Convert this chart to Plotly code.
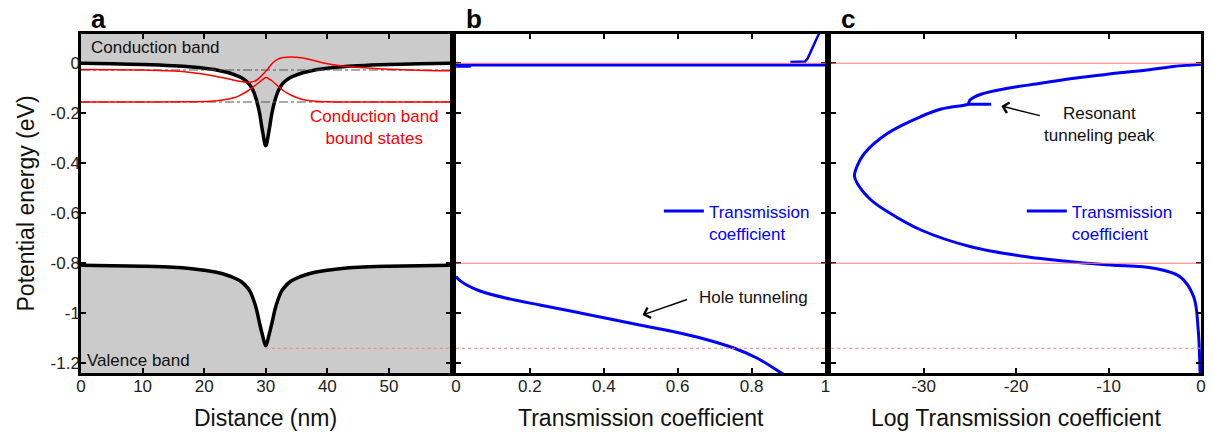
import plotly.graph_objects as go

# ---------------- data ----------------
# Panel a: band profiles vs distance (nm)
cb_x = [0, 5, 10, 15, 18, 20, 22, 24, 25, 26, 27, 27.5, 28, 28.5, 29, 29.5, 30,
        30.5, 31, 31.5, 32, 32.5, 33, 34, 35, 36, 38, 40, 42, 45, 50, 55, 60]
cb_E = [0, -0.002, -0.005, -0.01, -0.015, -0.02, -0.027, -0.038, -0.047, -0.057, -0.075,
        -0.09, -0.112, -0.148, -0.2, -0.275, -0.33,
        -0.275, -0.2, -0.148, -0.112, -0.09, -0.075, -0.057, -0.047, -0.038, -0.027,
        -0.02, -0.015, -0.01, -0.005, -0.002, 0]
vb_E = [-0.808, -0.81, -0.812, -0.816, -0.822, -0.828, -0.836, -0.85, -0.86, -0.873, -0.897,
        -0.915, -0.945, -0.985, -1.04, -1.09, -1.13,
        -1.09, -1.04, -0.985, -0.945, -0.915, -0.897, -0.873, -0.86, -0.85, -0.836,
        -0.828, -0.822, -0.816, -0.812, -0.81, -0.808]

# bound states (eV) and wavefunctions drawn offset by their energy
bound_E = [-0.155, -0.027]
wf1_x = [0, 10, 18, 21, 23, 25, 26, 27, 28, 29, 29.6, 30.1, 30.6, 31, 32, 33, 34, 35, 36, 38, 40, 45, 60]
wf1_E = [-0.155, -0.155, -0.154, -0.152, -0.147, -0.137, -0.126, -0.112, -0.094, -0.075, -0.063,
         -0.057, -0.064, -0.07, -0.092, -0.112, -0.126, -0.137, -0.145, -0.152, -0.154, -0.155, -0.155]
wf2_x = [0, 10, 16, 20, 22, 24, 26, 27.5, 28.5, 29.2, 30.2, 31.2, 32.3, 34, 36, 37.5, 39.6, 42.4, 46, 50, 55, 60]
wf2_E = [-0.025, -0.027, -0.032, -0.044, -0.053, -0.063, -0.073, -0.076, -0.068, -0.053, -0.027,
         0.003, 0.02, 0.025, 0.021, 0.013, 0.0, -0.011, -0.018, -0.024, -0.028, -0.03]

# reference levels (eV)
ref_solid = [0.0, -0.8]
ref_dotted = -1.14
vb_min_x = 30

# Panel b: transmission coefficient
T_hole = [0.893, 0.88, 0.813, 0.75, 0.677, 0.587, 0.497, 0.407, 0.317, 0.227, 0.137, 0.065, 0.029, 0.008, 0.0]
E_hole = [-1.25, -1.238, -1.178, -1.138, -1.105, -1.073, -1.047, -1.02, -0.993, -0.967, -0.94,
          -0.911, -0.887, -0.866, -0.852]
T_gap = [0.0, 0.04, 0.0, 1.0]
E_gap = [-0.012, -0.012, -0.007, -0.007]
T_up = [0.905, 0.945, 0.952, 0.962, 0.972, 0.982, 0.99]
E_up = [0.005, 0.007, 0.02, 0.055, 0.085, 0.117, 0.14]

# Panel c: log transmission coefficient
logT_c = [0.0, -1.0, -2.98, -5.84, -10.1, -13.7, -17.3, -20.9, -23.8, -25.0, -25.2, -26.6, -28.1,
          -30.3, -33.9, -36.4, -37.3, -37.5, -37.2, -35.7, -33.9, -30.3, -24.9, -19.5, -14.1,
          -9.8, -5.1, -2.3, -0.8, -0.3, -0.1, -0.08]
E_c = [-0.004, -0.007, -0.013, -0.027, -0.044, -0.06, -0.08, -0.1, -0.124, -0.147, -0.163, -0.173,
       -0.183, -0.213, -0.28, -0.36, -0.42, -0.45, -0.48, -0.547, -0.594, -0.667, -0.734, -0.771,
       -0.794, -0.807, -0.82, -0.853, -0.933, -1.067, -1.238, -1.26]
res_logT = [-25.2, -22.7]
res_E = [-0.164, -0.164]

# ticks
y_ticks = [0, -0.2, -0.4, -0.6, -0.8, -1.0, -1.2]
y_labels = ["0", "-0.2", "-0.4", "-0.6", "-0.8", "-1", "-1.2"]
xa_ticks = [0, 10, 20, 30, 40, 50]
xb_ticks = [0, 0.2, 0.4, 0.6, 0.8, 1.0]
xb_labels = ["0", "0.2", "0.4", "0.6", "0.8", "1"]
xc_ticks = [-30, -20, -10, 0]
xc_labels = ["-30", "-20", "-10", "0"]

# ---------------- styles ----------------
FONT = "Liberation Sans, Arial, sans-serif"
BLUE = "#0000ff"
RED = "#ff0000"
LIGHTRED = "#ff7c7c"
GRAY = "#cbcbcb"

fig = go.Figure()

# Panel a
fig.add_trace(go.Scatter(x=cb_x, y=vb_E, mode="lines", line=dict(color="black", width=3.5, shape="spline"),
                         xaxis="x", yaxis="y", showlegend=False))
fig.add_trace(go.Scatter(x=cb_x, y=cb_E, mode="lines", line=dict(color="black", width=3.5, shape="spline"),
                         fill="tonexty", fillcolor="white", xaxis="x", yaxis="y", showlegend=False))
for e in bound_E:
    fig.add_trace(go.Scatter(x=[cb_x[0], cb_x[-1]], y=[e, e], mode="lines",
                             line=dict(color="#555555", width=1, dash="dashdot"),
                             xaxis="x", yaxis="y", showlegend=False))
fig.add_trace(go.Scatter(x=wf1_x, y=wf1_E, mode="lines", line=dict(color=RED, width=1.5, shape="spline"),
                         xaxis="x", yaxis="y", showlegend=False))
fig.add_trace(go.Scatter(x=wf2_x, y=wf2_E, mode="lines", line=dict(color=RED, width=1.5, shape="spline"),
                         xaxis="x", yaxis="y", showlegend=False))
fig.add_trace(go.Scatter(x=[vb_min_x, cb_x[-1]], y=[ref_dotted, ref_dotted], mode="lines",
                         line=dict(color=LIGHTRED, width=1, dash="dot"),
                         xaxis="x", yaxis="y", showlegend=False))

# Panel b
fig.add_trace(go.Scatter(x=T_hole, y=E_hole, mode="lines", line=dict(color=BLUE, width=3, shape="spline"),
                         xaxis="x2", yaxis="y2", name="Transmission<br>coefficient",
                         showlegend=True, legend="legend"))
fig.add_trace(go.Scatter(x=T_gap, y=E_gap, mode="lines", line=dict(color=BLUE, width=3),
                         xaxis="x2", yaxis="y2", showlegend=False))
fig.add_trace(go.Scatter(x=T_up, y=E_up, mode="lines", line=dict(color=BLUE, width=2.5),
                         xaxis="x2", yaxis="y2", showlegend=False))

# Panel c
fig.add_trace(go.Scatter(x=logT_c, y=E_c, mode="lines", line=dict(color=BLUE, width=3, shape="spline"),
                         xaxis="x3", yaxis="y3", name="Transmission<br>coefficient",
                         showlegend=True, legend="legend2"))
fig.add_trace(go.Scatter(x=res_logT, y=res_E, mode="lines", line=dict(color=BLUE, width=3),
                         xaxis="x3", yaxis="y3", showlegend=False))

shapes = [dict(type="rect", xref="x domain", yref="y domain", x0=0, x1=1, y0=0, y1=1,
               fillcolor=GRAY, line=dict(width=0), layer="below")]
for ax in ["x2", "x3"]:
    yax = "y" + ax[1:]
    for lv in ref_solid:
        shapes.append(dict(type="line", xref=ax + " domain", yref=yax, x0=0, x1=1, y0=lv, y1=lv,
                           line=dict(color=LIGHTRED, width=1.2), layer="above"))
    shapes.append(dict(type="line", xref=ax + " domain", yref=yax, x0=0, x1=1, y0=ref_dotted, y1=ref_dotted,
                       line=dict(color=LIGHTRED, width=1, dash="dot"), layer="above"))

yrange = [-1.239, 0.117]
axis_common = dict(showline=True, linecolor="black", linewidth=2.5, mirror="allticks", ticks="inside",
                   ticklen=5, tickwidth=2, tickcolor="black", showgrid=False, zeroline=False,
                   automargin=False,
                   tickfont=dict(family=FONT, size=17, color="#222222"))
title_font = dict(family=FONT, size=23, color="#111111")

fig.update_layout(
    width=1213, height=435,
    margin=dict(l=81, r=12, t=34, b=62, autoexpand=False),
    paper_bgcolor="white", plot_bgcolor="white",
    font=dict(family=FONT, color="#222222"),
    shapes=shapes,
    xaxis=dict(domain=[0, 0.3299], range=[0, 60], tickvals=xa_ticks, anchor="y", ticklabelstandoff=-4,
               **axis_common),
    yaxis=dict(range=yrange, tickvals=y_ticks, ticktext=y_labels, anchor="x", ticklabelstandoff=-5,
               **axis_common),
    xaxis2=dict(domain=[0.3348, 0.6647], range=[0, 1], tickvals=xb_ticks, ticktext=xb_labels, anchor="y2",
                ticklabelstandoff=-4, **axis_common),
    yaxis2=dict(range=yrange, tickvals=y_ticks, showticklabels=False, anchor="x2", **axis_common),
    xaxis3=dict(domain=[0.6699, 1.0], range=[-40, 0], tickvals=xc_ticks, ticktext=xc_labels, anchor="y3",
                ticklabelstandoff=-4, **axis_common),
    yaxis3=dict(range=yrange, tickvals=y_ticks, showticklabels=False, anchor="x3", **axis_common),
    legend=dict(x=0.516, y=0.53, xref="paper", yref="paper", xanchor="left", yanchor="top",
                bgcolor="rgba(0,0,0,0)", valign="top", itemwidth=40,
                font=dict(family=FONT, size=17, color=BLUE)),
    legend2=dict(x=0.840, y=0.53, xref="paper", yref="paper", xanchor="left", yanchor="top",
                 bgcolor="rgba(0,0,0,0)", valign="top", itemwidth=40,
                 font=dict(family=FONT, size=17, color=BLUE)),
)

ann_font = dict(family=FONT, size=17, color="#111111")
letter_font = dict(family=FONT, size=26, color="black")
title_y = -0.133  # axis-title row, in paper units below the plot area
annotations = [
    dict(text="Potential energy (eV)", xref="paper", yref="paper", x=-0.05, y=0.5, textangle=-90,
         showarrow=False, font=title_font, xanchor="center", yanchor="middle"),
    dict(text="Distance (nm)", xref="x domain", yref="paper", x=0.5, y=title_y, showarrow=False,
         font=title_font, xanchor="center", yanchor="middle"),
    dict(text="Transmission coefficient", xref="x2 domain", yref="paper", x=0.5, y=title_y, showarrow=False,
         font=title_font, xanchor="center", yanchor="middle"),
    dict(text="Log Transmission coefficient", xref="x3 domain", yref="paper", x=0.5, y=title_y,
         showarrow=False, font=title_font, xanchor="center", yanchor="middle"),
    dict(text="<b>a</b>", xref="paper", yref="paper", x=0.0156, y=1.045, showarrow=False,
         font=letter_font, xanchor="center", yanchor="middle"),
    dict(text="<b>b</b>", xref="paper", yref="paper", x=0.351, y=1.045, showarrow=False,
         font=letter_font, xanchor="center", yanchor="middle"),
    dict(text="<b>c</b>", xref="paper", yref="paper", x=0.685, y=1.045, showarrow=False,
         font=letter_font, xanchor="center", yanchor="middle"),
    dict(text="Conduction band", xref="x", yref="y", x=1.3, y=0.063, showarrow=False,
         font=ann_font, xanchor="left", yanchor="middle"),
    dict(text="Valence band", xref="x", yref="y", x=0.6, y=-1.187, showarrow=False,
         font=ann_font, xanchor="left", yanchor="middle"),
    dict(text="Conduction band<br>bound states", xref="x", yref="y", x=47.6, y=-0.255, showarrow=False,
         font=dict(family=FONT, size=17, color=RED), xanchor="center", yanchor="middle"),
    dict(text="Hole tunneling", xref="x2", yref="y2", x=0.805, y=-0.935, showarrow=False,
         font=ann_font, xanchor="center", yanchor="middle"),
    dict(text="", xref="x2", yref="y2", x=0.505, y=-1.007, ax=46, ay=-16, showarrow=True,
         arrowhead=4, arrowsize=1.4, arrowwidth=1.5, arrowcolor="black"),
    dict(text="Resonant<br>tunneling peak", xref="x3", yref="y3", x=-11.0, y=-0.243, showarrow=False,
         font=ann_font, xanchor="center", yanchor="middle"),
    dict(text="", xref="x3", yref="y3", x=-21.6, y=-0.171, ax=40, ay=10, showarrow=True,
         arrowhead=4, arrowsize=1.4, arrowwidth=1.5, arrowcolor="black"),
]
fig.update_layout(annotations=annotations)

# remove the browser's default 8px page margin so the figure fills the window exactly
fig.write_html("out.html", config={"displayModeBar": False},
               post_script="document.body.style.margin='0px';document.body.style.overflow='hidden';")
